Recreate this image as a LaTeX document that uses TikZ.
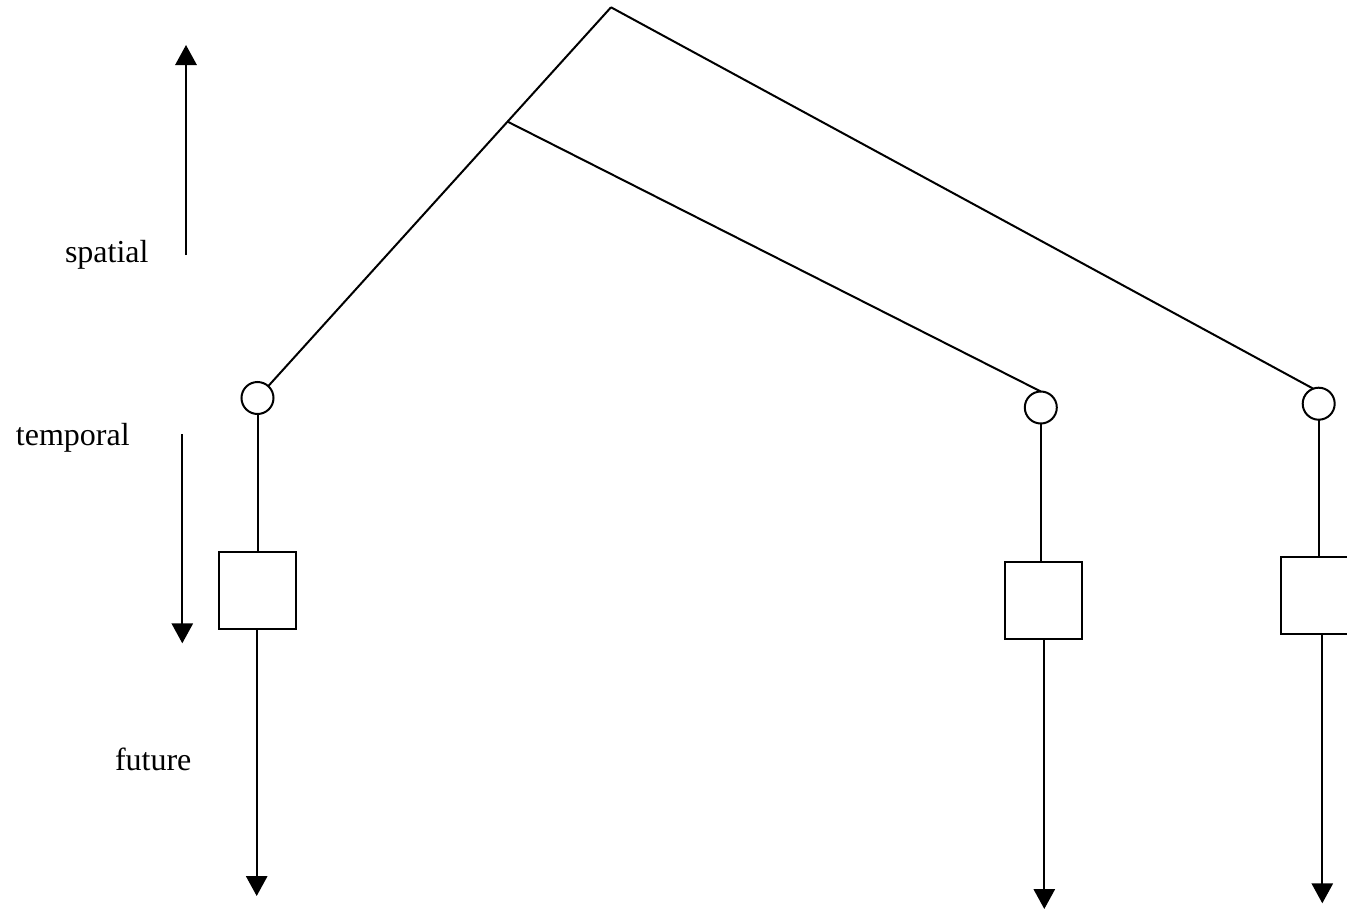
\documentclass[tikz,border=0pt]{standalone}
\usepackage{fontspec}
\setmainfont{Liberation Serif}
\usetikzlibrary{arrows.meta}
\begin{document}
\begin{tikzpicture}[x=0.75pt,y=-0.75pt,
  line width=1.5pt,
  every node/.style={inner sep=0pt, outer sep=0pt},
  state/.style={draw, circle, minimum size=24pt, line width=1.5pt},
  block/.style={draw, rectangle, minimum width=57.75pt, minimum height=57.75pt, line width=1.5pt},
  label/.style={font=\fontsize{24}{28}\selectfont, anchor=base west},
  flow/.style={-{Triangle[length=15pt,width=16pt]}}]
  \useasboundingbox (0,0) rectangle (1347,910);

  % branching tree
  \coordinate (apex) at (611,7.3);
  \coordinate (junc) at (507.7,121.7);

  \node[state] (c1) at (257.5,398) {};
  \node[state] (c2) at (1040.8,407.5) {};
  \node[state] (c3) at (1318.7,403.7) {};

  \node[block] (s1) at (257,590.3) {};
  \node[block] (s2) at (1043,600.8) {};
  \node[block] (s3) at (1319,595.5) {};

  \coordinate (e1) at (256.7,896);
  \coordinate (e2) at (1044.3,909);
  \coordinate (e3) at (1322.3,903.3);

  \draw (apex) -- (c1);
  \draw (junc) -- (c2.north);
  \draw (apex) -- (c3.110);

  \draw (c1.south) -- (c1.south |- s1.north);
  \draw (c2.south) -- (c2.south |- s2.north);
  \draw (c3.south) -- (c3.south |- s3.north);

  \draw[flow] (s1.south -| e1) -- (e1);
  \draw[flow] (s2.south -| e2) -- (e2);
  \draw[flow] (s3.south -| e3) -- (e3);

  % axis arrows
  \coordinate (sp0) at (186,255);
  \coordinate (sp1) at (186,45);
  \coordinate (tp0) at (182.3,434);
  \coordinate (tp1) at (182.3,643.3);
  \draw[flow] (sp0) -- (sp1);
  \draw[flow] (tp0) -- (tp1);

  % labels
  \node[label] (lsp) at (65,262) {spatial};
  \node[label] (ltp) at (16,445) {temporal};
  \node[label] (lfu) at (115,770) {future};
\end{tikzpicture}
\end{document}
